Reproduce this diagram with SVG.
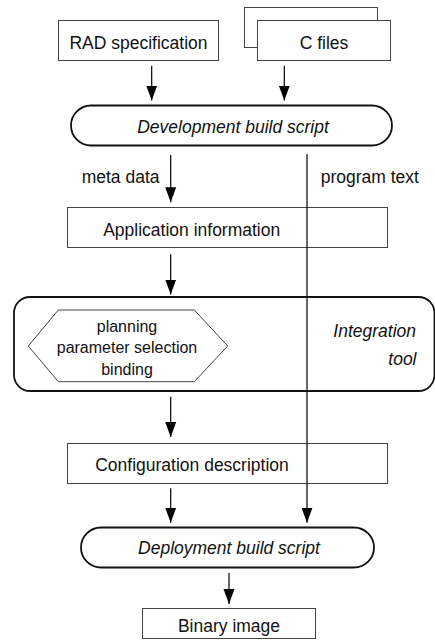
<svg xmlns="http://www.w3.org/2000/svg" width="435" height="640" viewBox="0 0 435 640">
<style>
.box{fill:#fff;stroke:#444;stroke-width:1}
.term{fill:#fff;stroke:#111;stroke-width:1.8}
.t{font-family:"Liberation Sans",Arial,sans-serif;font-size:17.5px;fill:#111}
.i{font-style:italic}
.s{font-size:16px}
.c{text-anchor:middle}
.e{text-anchor:end}
.ln{stroke:#000;stroke-width:1.2;fill:none}
</style>
<defs>
<marker id="ah" markerUnits="userSpaceOnUse" markerWidth="16" markerHeight="12" refX="15" refY="6" orient="auto" viewBox="0 0 16 12">
<path d="M0,0.5 L15,6 L0,11.5 Z" fill="#000"/>
</marker>
</defs>
<rect width="435" height="640" fill="#fff"/>
<g id="rad">
<rect class="box" x="58.5" y="20.5" width="160" height="40"/>
<text class="t c" x="138.5" y="49">RAD specification</text>
</g>
<g id="cfiles">
<rect class="box" x="244.5" y="7.5" width="133" height="40"/>
<rect class="box" x="257.5" y="20.5" width="133" height="40"/>
<text class="t c" x="324" y="49">C files</text>
</g>
<g id="devbuild">
<rect class="term" x="71" y="105.5" width="321" height="40" rx="20" ry="20"/>
<text class="t i c" x="233" y="133">Development build script</text>
</g>
<g id="appinfo">
<rect class="box" x="67.5" y="207.5" width="320" height="40"/>
<text class="t c" x="191.7" y="235.5">Application information</text>
</g>
<g id="integration">
<rect class="term" x="14" y="297" width="420.5" height="94" rx="16" ry="16"/>
<polygon class="box" points="28.3,346 58.3,310 194.3,310 227.7,346 194.3,381.7 58.3,381.7"/>
<text class="t s c" x="127" y="331.5">planning</text>
<text class="t s c" x="127" y="353.3">parameter selection</text>
<text class="t s c" x="127" y="375">binding</text>
<text class="t i e" x="416" y="336.5">Integration</text>
<text class="t i e" x="416.5" y="365">tool</text>
</g>
<g id="config">
<rect class="box" x="67.5" y="443.5" width="320" height="40"/>
<text class="t c" x="192" y="470.5">Configuration description</text>
</g>
<g id="deploy">
<rect class="term" x="81" y="527.5" width="293" height="40" rx="20" ry="20"/>
<text class="t i c" x="229" y="554">Deployment build script</text>
</g>
<g id="binary">
<rect class="box" x="142.5" y="608.5" width="173" height="30"/>
<text class="t c" x="229" y="631.5">Binary image</text>
</g>
<g id="connectors">
<line class="ln" x1="151.7" y1="65.7" x2="151.7" y2="100.5" marker-end="url(#ah)"/>
<line class="ln" x1="284.3" y1="65.7" x2="284.3" y2="100.5" marker-end="url(#ah)"/>
<line class="ln" x1="170.7" y1="155" x2="170.7" y2="202.3" marker-end="url(#ah)"/>
<line class="ln" x1="307" y1="154" x2="307" y2="522.7" marker-end="url(#ah)"/>
<line class="ln" x1="170.7" y1="254.3" x2="170.7" y2="294.5" marker-end="url(#ah)"/>
<line class="ln" x1="170.7" y1="396.7" x2="170.7" y2="437" marker-end="url(#ah)"/>
<line class="ln" x1="170.7" y1="488.3" x2="170.7" y2="522.7" marker-end="url(#ah)"/>
<line class="ln" x1="229" y1="572.7" x2="229" y2="604" marker-end="url(#ah)"/>
<text class="t" x="81.7" y="183">meta data</text>
<text class="t" x="320.7" y="183">program text</text>
</g>
</svg>
